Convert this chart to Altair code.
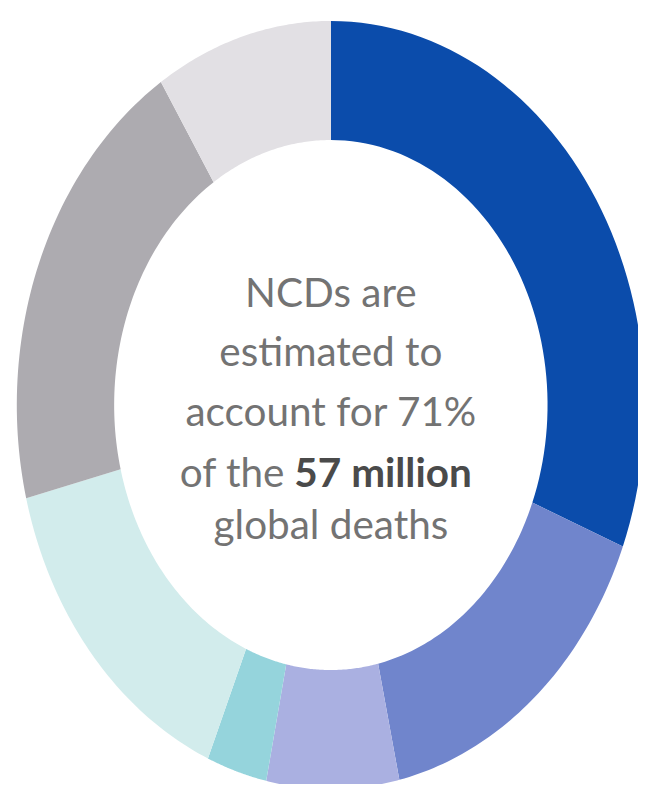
import altair as alt
import pandas as pd

# Segments, clockwise from 12 o'clock (shares of all global deaths, %)
categories = [
    "Cardiovascular diseases",
    "Cancers",
    "Chronic respiratory diseases",
    "Diabetes",
    "Other NCDs",
    "Communicable, maternal, perinatal and nutritional conditions",
    "Injuries",
]
shares = [31, 15.5, 6.8, 3.1, 14.7, 19.8, 9.1]
colors = ["#0b4cab", "#7085cc", "#aab0e1", "#95d4dc", "#d2ecec", "#adabb0", "#e2e0e4"]

line1 = "NCDs are"
line2 = "estimated to"
line3 = "account for 71%"
line4a = "of the"
line4b = "57 million"
line5 = "global deaths"

df = pd.DataFrame({"category": categories, "share": shares, "order": list(range(len(categories)))})

N = 60          # vertices per arc edge
INNER = 0.69    # inner radius relative to outer

ring = (
    alt.Chart(df)
    .transform_window(cum="sum(share)", sort=[alt.SortField("order")], frame=[None, 0])
    .transform_joinaggregate(total="sum(share)")
    .transform_calculate(a0="2*PI*(datum.cum - datum.share)/datum.total")
    .transform_calculate(a1="2*PI*datum.cum/datum.total")
    .transform_calculate(idx=f"sequence(0, {2 * N + 2})")
    .transform_flatten(["idx"])
    .transform_calculate(t=f"datum.idx <= {N} ? datum.idx/{N} : 1 - (datum.idx - {N + 1})/{N}")
    .transform_calculate(r=f"datum.idx <= {N} ? 1 : {INNER}")
    .transform_calculate(ang="datum.a0 + (datum.a1 - datum.a0)*datum.t")
    .transform_calculate(px="datum.r*sin(datum.ang)")
    .transform_calculate(py="datum.r*cos(datum.ang)")
    .mark_line(filled=True, interpolate="linear-closed", clip=True)
    .encode(
        x=alt.X("px:Q", scale=alt.Scale(domain=[-1.028, 0.978], nice=False, zero=False), axis=None),
        y=alt.Y("py:Q", scale=alt.Scale(domain=[-0.987, 1.021], nice=False, zero=False), axis=None),
        color=alt.Color("category:N", scale=alt.Scale(domain=categories, range=colors), legend=None),
        order=alt.Order("idx:Q"),
    )
)


def txt(s, x, y, align, weight, color):
    return (
        alt.Chart(pd.DataFrame({"t": [s]}))
        .mark_text(font="Lato", fontSize=41, fontWeight=weight, color=color,
                   align=align, baseline="alphabetic")
        .encode(x=alt.value(x), y=alt.value(y), text="t:N")
    )


CX = 327
REG = "#737373"
texts = [
    txt(line1, CX, 298, "center", "normal", REG),
    txt(line2, CX, 358, "center", "normal", REG),
    txt(line3, CX, 418, "center", "normal", REG),
    txt(line4a, 280, 480, "right", "normal", REG),
    txt(line4b, 290, 480, "left", "bold", "#4a4a4a"),
    txt(line5, CX, 533, "center", "normal", REG),
]

chart = (
    alt.layer(ring, *texts)
    .properties(width=638, height=781, padding=0, autosize="none", background="white")
    .configure_view(stroke=None)
)

chart.save("out.html", embed_options={"renderer": "svg", "actions": False})
